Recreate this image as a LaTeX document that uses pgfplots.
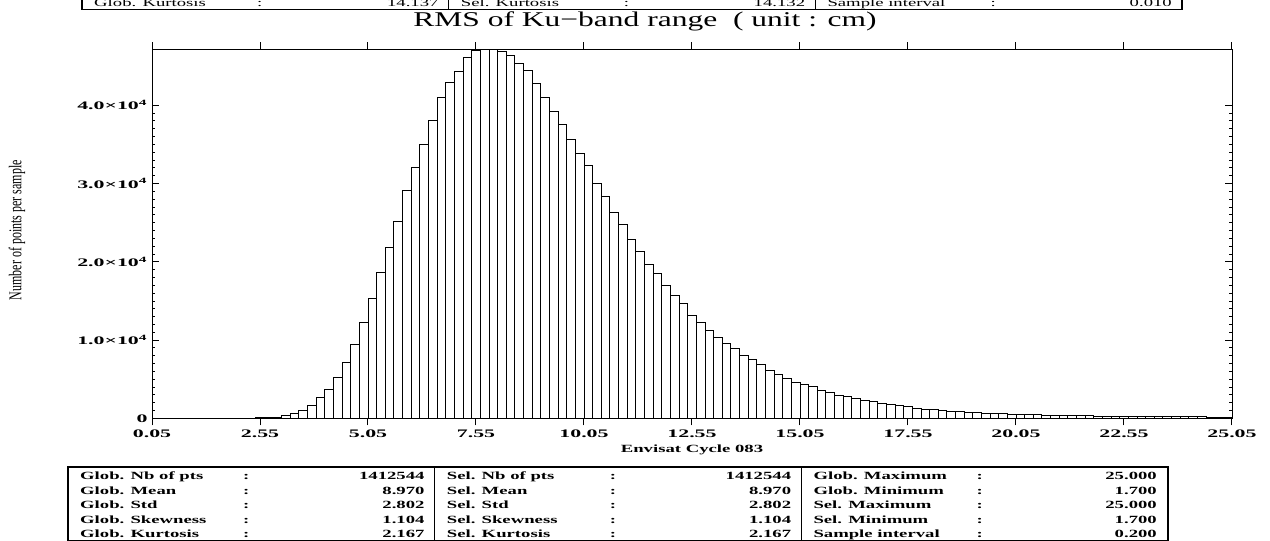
\documentclass[border=0pt]{standalone}
\usepackage{pgfplots}
\pgfplotsset{compat=1.18}
\usepackage{pgfplotstable}
\usepackage{fontspec}
\usepackage{graphicx}
\setmainfont{Liberation Serif}

% IDL vector fonts are wide: stretch the text horizontally
\newcommand{\wt}[1]{\scalebox{1.7}[1]{#1}}
\newcommand{\wk}[1]{\scalebox{1.9}[1]{#1}}
\newcommand{\tabfont}{\fontsize{11}{12}\selectfont\bfseries}
\newcommand{\tickfont}{\fontsize{11.5}{12}\selectfont\bfseries}

% histogram: left bin edge, count (bin width 0.2)
\pgfplotstableread{
x y
1.65 3
1.85 8
2.05 15
2.25 40
2.45 80
2.65 130
2.85 170
3.05 300
3.25 640
3.45 1020
3.65 1660
3.85 2600
4.05 3700
4.25 5240
4.45 7190
4.65 9450
4.85 12260
5.05 15280
5.25 18650
5.45 21840
5.65 25160
5.85 29120
6.05 32010
6.25 35000
6.45 38100
6.65 40950
6.85 42870
7.05 44270
7.25 46100
7.45 46950
7.65 47130
7.85 47130
8.05 46830
8.25 46320
8.45 45300
8.65 44440
8.85 42740
9.05 41000
9.25 39250
9.45 37550
9.65 35670
9.85 33840
10.05 32310
10.25 30050
10.45 28310
10.65 26270
10.85 24820
11.05 22820
11.25 21330
11.45 19650
11.65 18480
11.85 17030
12.05 15710
12.25 14640
12.45 13150
12.65 12260
12.85 11280
13.05 10340
13.25 9620
13.45 8900
13.65 8050
13.85 7530
14.05 6900
14.25 6090
14.45 5660
14.65 5150
14.85 4600
15.05 4300
15.25 4040
15.45 3580
15.65 3240
15.85 2940
16.05 2770
16.25 2510
16.45 2300
16.65 2130
16.85 1870
17.05 1750
17.25 1580
17.45 1490
17.65 1280
17.85 1190
18.05 1110
18.25 1000
18.45 920
18.65 850
18.85 790
19.05 730
19.25 680
19.45 630
19.65 590
19.85 550
20.05 510
20.25 480
20.45 450
20.65 420
20.85 390
21.05 370
21.25 350
21.45 330
21.65 310
21.85 290
22.05 280
22.25 260
22.45 250
22.65 240
22.85 230
23.05 220
23.25 210
23.45 200
23.65 190
23.85 185
24.05 180
24.25 175
24.45 170
24.65 165
24.85 160
25.05 160
}\histdata

\begin{document}
\begin{tikzpicture}[x=1pt,y=1pt]
\path[use as bounding box, clip] (0,0) rectangle (1270,541);

% histogram, y ticks inside on both sides
\begin{axis}[
  at={(152pt,122.7pt)}, anchor=south west, scale only axis,
  width=1080pt, height=369pt,
  xmin=0.05, xmax=25.05, ymin=0, ymax=47130,
  axis line style={line width=0.8pt},
  xtick=\empty,
  ytick={0,10000,20000,30000,40000},
  yticklabels={\wk{0},\wk{1.0×10\textsuperscript{4}},\wk{2.0×10\textsuperscript{4}},\wk{3.0×10\textsuperscript{4}},\wk{4.0×10\textsuperscript{4}}},
  scaled y ticks=false,
  minor y tick num=9,
  tick align=inside,
  major tick length=7pt, minor tick length=3.3pt,
  tick style={line width=0.7pt, black},
  yticklabel pos=left,
  yticklabel style={font=\tickfont, xshift=-1pt},
  ylabel={\scalebox{1}[1.5]{Number of points per sample}},
  ylabel style={at={(axis description cs:-0.125,0.51)}, anchor=center, font=\fontsize{12}{13}\selectfont},
]
\addplot[ybar interval, draw=black, fill=white, line width=0.9pt] table[x=x,y=y]{\histdata};
\end{axis}

% x ticks outside, top and bottom, with labels
\begin{axis}[
  at={(152pt,122.7pt)}, anchor=south west, scale only axis,
  width=1080pt, height=369pt,
  xmin=0.05, xmax=25.05, ymin=0, ymax=47130,
  axis line style={line width=0.8pt},
  ytick=\empty,
  xtick={0.05,2.55,5.05,7.55,10.05,12.55,15.05,17.55,20.05,22.55,25.05},
  xticklabels={\wk{0.05},\wk{2.55},\wk{5.05},\wk{7.55},\wk{10.05},\wk{12.55},\wk{15.05},\wk{17.55},\wk{20.05},\wk{22.55},\wk{25.05}},
  tick align=outside,
  major tick length=7pt,
  tick style={line width=1pt, black},
  xticklabel style={font=\tickfont, yshift=-1.5pt},
  xlabel={\wt{Envisat Cycle 083}},
  xlabel style={at={(axis description cs:0.5,0)}, anchor=center, yshift=-31.7pt, font=\tabfont},
]
\end{axis}

% title
\node[anchor=base, inner sep=0pt, font=\fontsize{21}{24}\selectfont] at (645,514)
  {\scalebox{1.5}[1]{RMS of Ku−band range~ ( unit : cm)}};

% statistics tables
\begin{scope}[every node/.style={inner sep=0pt, font=\tabfont}]
% bottom table
\draw[line width=1.2pt] (68,74) rectangle (1168,0.5);
\draw[line width=1.2pt] (434.7,74) -- (434.7,0) (801.3,74) -- (801.3,0);
\foreach \yy/\a/\va/\b/\vb/\c/\vc in {
  61/Glob. Nb of pts/1412544/Sel. Nb of pts/1412544/Glob. Maximum/25.000,
  46.6/Glob. Mean/8.970/Sel. Mean/8.970/Glob. Minimum/1.700,
  32.2/Glob. Std/2.802/Sel. Std/2.802/Sel. Maximum/25.000,
  17.8/Glob. Skewness/1.104/Sel. Skewness/1.104/Sel. Minimum/1.700,
  3.4/Glob. Kurtosis/2.167/Sel. Kurtosis/2.167/Sample interval/0.200}{
  \node[anchor=base west] at (80,\yy) {\wt{\a}};
  \node[anchor=base west] at (243,\yy) {\wt{:}};
  \node[anchor=base east] at (424.7,\yy) {\wt{\va}};
  \node[anchor=base west] at (446.7,\yy) {\wt{\b}};
  \node[anchor=base west] at (609.7,\yy) {\wt{:}};
  \node[anchor=base east] at (791.3,\yy) {\wt{\vb}};
  \node[anchor=base west] at (813.3,\yy) {\wt{\c}};
  \node[anchor=base west] at (976.3,\yy) {\wt{:}};
  \node[anchor=base east] at (1157,\yy) {\wt{\vc}};
}
\end{scope}
% top table (only its last row is in view)
\begin{scope}[every node/.style={inner sep=0pt, font=\fontsize{11}{12}\selectfont}]
\draw[line width=1.2pt] (82,545) -- (82,531.5) -- (1182,531.5) -- (1182,545);
\draw[line width=1.2pt] (448.7,545) -- (448.7,531.5) (815.3,545) -- (815.3,531.5);
\node[anchor=base west] at (94,534.5) {\wt{Glob. Kurtosis}};
\node[anchor=base west] at (257,534.5) {\wt{:}};
\node[anchor=base east] at (438.7,534.5) {\wt{14.137}};
\node[anchor=base west] at (460.7,534.5) {\wt{Sel. Kurtosis}};
\node[anchor=base west] at (623.7,534.5) {\wt{:}};
\node[anchor=base east] at (805.3,534.5) {\wt{14.132}};
\node[anchor=base west] at (827.3,534.5) {\wt{Sample interval}};
\node[anchor=base west] at (990.3,534.5) {\wt{:}};
\node[anchor=base east] at (1172,534.5) {\wt{0.010}};
\end{scope}
\end{tikzpicture}
\end{document}
